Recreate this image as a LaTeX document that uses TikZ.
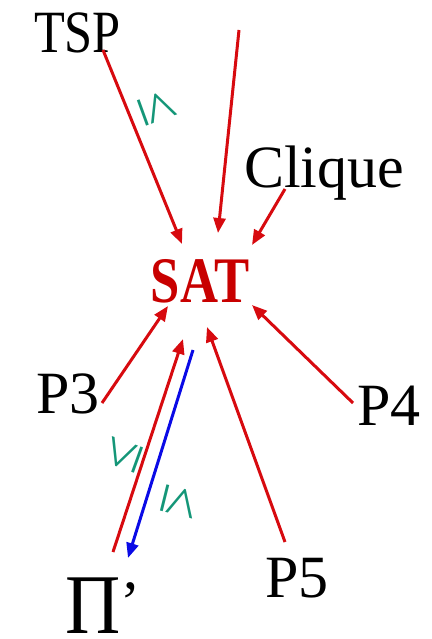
\documentclass[tikz,border=0pt]{standalone}
\usepackage{graphicx}
\usepackage{fontspec}
\setmainfont{Liberation Serif}
\usetikzlibrary{arrows.meta}
\definecolor{arrred}{RGB}{215,10,15}
\definecolor{satred}{RGB}{200,0,0}
\definecolor{arrblue}{RGB}{10,10,230}
\definecolor{leqteal}{RGB}{20,150,120}
\begin{document}
\begin{tikzpicture}[x=1pt,y=-1pt,
  lbl/.style={inner sep=0pt, anchor=base, font=\fontsize{60}{60}\selectfont},
  redarr/.style={draw=arrred, line width=3pt, -{Triangle[length=15pt,width=12pt]}},
  bluearr/.style={draw=arrblue, line width=3pt, -{Triangle[length=15pt,width=12pt]}},
  leqsign/.style={inner sep=0pt, text=leqteal, font=\fontsize{58}{58}\selectfont}]
\useasboundingbox (0,0) rectangle (431,639);
% labels
\node[lbl] (TSP) at (77.5,53) {\scalebox{0.84}[1]{TSP}};
\node[lbl] (Clique) at (324,187) {Clique};
\node[lbl, text=satred, font=\fontsize{65}{65}\selectfont\bfseries] (SAT) at (200,302) {\scalebox{0.81}[1]{SAT}};
\node[lbl] (P3) at (68,413) {P3};
\node[lbl] (P4) at (389,425) {P4};
\node[lbl] (P5) at (297,597) {P5};
\node[lbl] (Pi) at (103,633) {{\fontsize{85}{85}\selectfont\scalebox{0.9}[1]{Π}}\raisebox{11pt}{’}};
% connector ends
\coordinate (tspout) at (103,50);
\coordinate (topstart) at (239,30);
\coordinate (cliqueout) at (285,189);
\coordinate (p3out) at (102,403);
\coordinate (p4out) at (353,403);
\coordinate (p5out) at (285,542);
\coordinate (piout) at (113,552);
\coordinate (piin) at (128,558);
\coordinate (satA) at (182,244);
\coordinate (satB) at (218,233);
\coordinate (satC) at (252,245);
\coordinate (satD) at (168,306);
\coordinate (satE) at (252,305);
\coordinate (satF) at (207,327);
\coordinate (satG) at (183,339);
\coordinate (satH) at (193,350);
% arrows
\draw[redarr] (tspout) -- (satA);
\draw[redarr] (topstart) -- (satB);
\draw[redarr] (cliqueout) -- (satC);
\draw[redarr] (p3out) -- (satD);
\draw[redarr] (p4out) -- (satE);
\draw[redarr] (p5out) -- (satF);
\draw[redarr] (piout) -- (satG);
\draw[bluearr] (satH) -- (piin);
% leq signs
\node[leqsign, rotate=-70] (leqA) at (158,108) {≤};
\node[leqsign, rotate=70] (leqB) at (123,455) {≤};
\node[leqsign, rotate=-104] (leqC) at (180,502) {≤};
\end{tikzpicture}
\end{document}
